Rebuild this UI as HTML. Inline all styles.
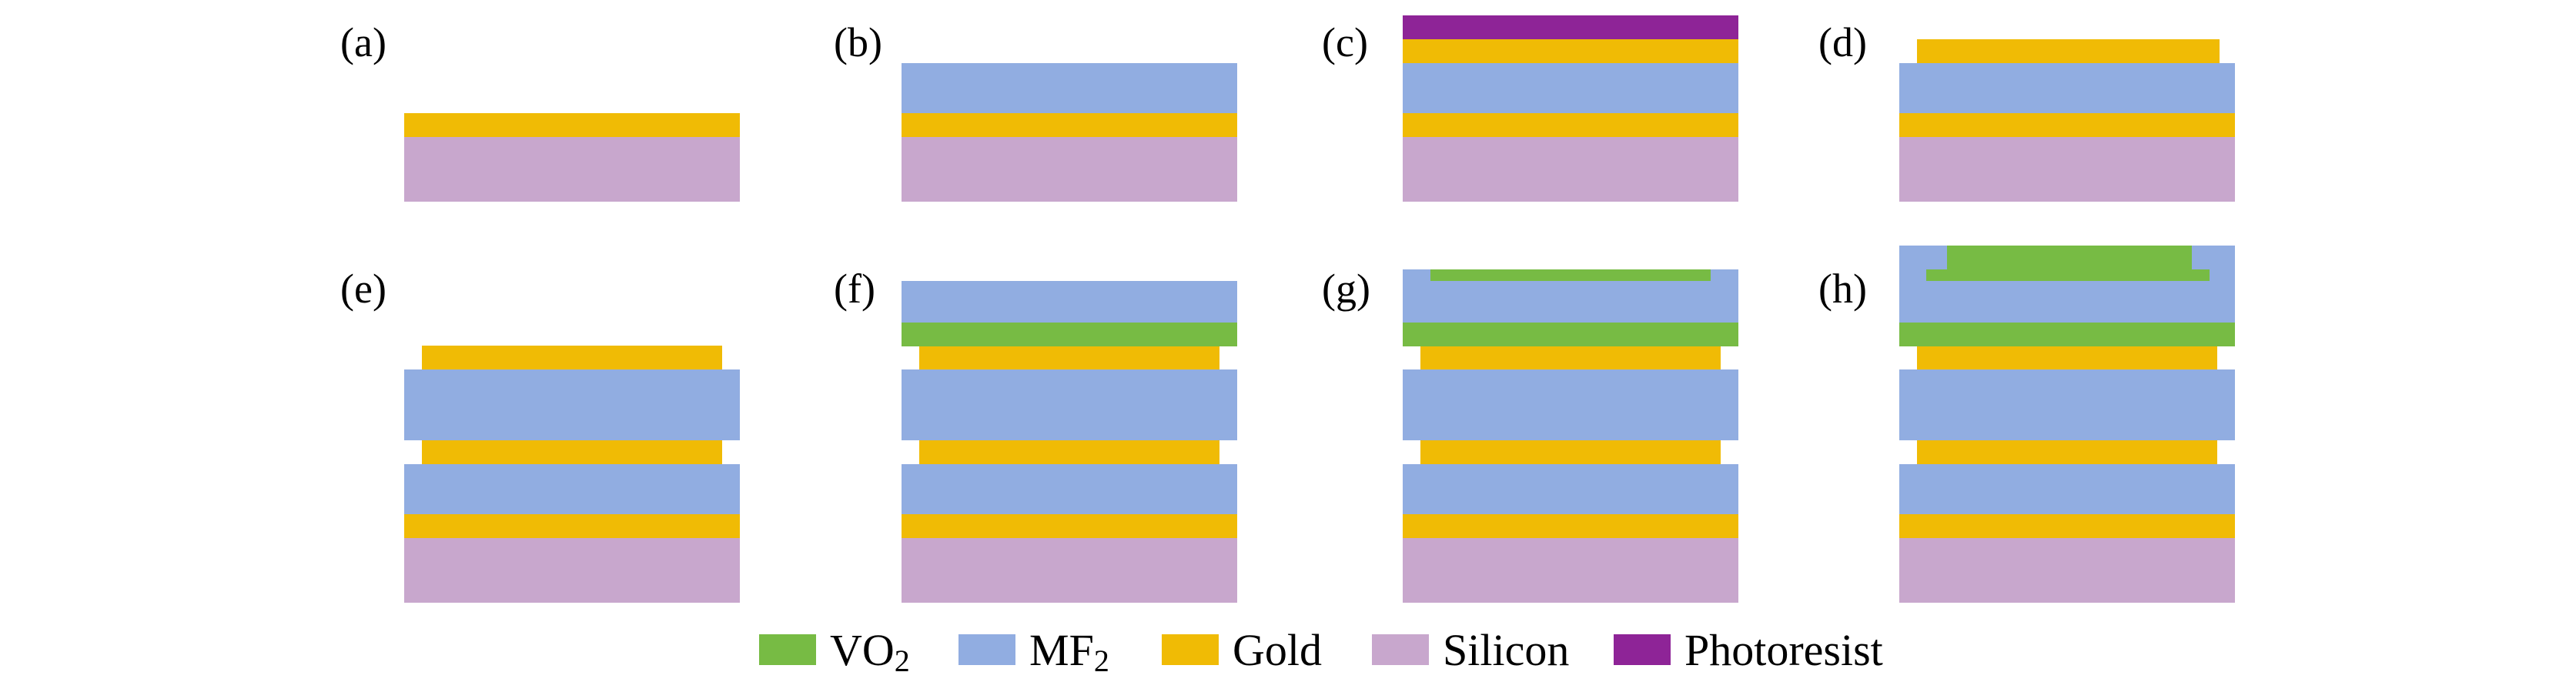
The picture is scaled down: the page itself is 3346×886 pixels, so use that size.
<!DOCTYPE html>
<html><head><meta charset="utf-8"><style>
html,body{margin:0;padding:0;background:#fff;}
svg{display:block;}
</style></head><body>
<svg width="3346" height="886" viewBox="0 0 3346 886" xmlns="http://www.w3.org/2000/svg">
<g id="panels"></g>
<g id="labels" font-size="54" font-family="'Liberation Serif', 'DejaVu Serif', serif" style="font-family:'Liberation Serif','DejaVu Serif',serif" fill="#000"></g>
<g id="legend" font-size="58" font-family="'Liberation Serif', 'DejaVu Serif', serif" style="font-family:'Liberation Serif','DejaVu Serif',serif" fill="#000"></g>
</svg>
<script>
const C={vo2:"#77bb44",mf2:"#91ade1",gold:"#f0bb05",si:"#c8a7cd",pr:"#8e2497"};
const panelX=[525,1171,1822,2467];
const W=436;
// layers: [material, insetLeft, insetRight, yTop, yBottom]
const base=[["si",0,0,178,262],["gold",0,0,147,178]];
const bottomBase=[["si",0,0,699,783],["gold",0,0,668,699],["mf2",0,0,603,668],["gold",23,23,572,603],["mf2",0,0,480,572],["gold",23,23,449,480]];
const panels=[
 {name:"a",col:0,layers:base},
 {name:"b",col:1,layers:base.concat([["mf2",0,0,82,147]])},
 {name:"c",col:2,layers:base.concat([["mf2",0,0,82,147],["gold",0,0,51,82],["pr",0,0,20,51]])},
 {name:"d",col:3,layers:base.concat([["mf2",0,0,82,147],["gold",23,20,51,82]])},
 {name:"e",col:0,layers:bottomBase},
 {name:"f",col:1,layers:bottomBase.concat([["vo2",0,0,419,450],["mf2",0,0,365,419]])},
 {name:"g",col:2,layers:bottomBase.concat([["vo2",0,0,419,450],["mf2",0,0,350,419],["vo2",36,36,350,365]])},
 {name:"h",col:3,layers:bottomBase.concat([["vo2",0,0,419,450],["mf2",0,0,319,419],["vo2",35,33,350,365],["vo2",62,56,319,350]])}
];
const NS="http://www.w3.org/2000/svg";
const gp=document.getElementById("panels");
panels.forEach(p=>{
  const g=document.createElementNS(NS,"g");
  
  
  p.layers.forEach(l=>{
    const r=document.createElementNS(NS,"rect");
    const x=panelX[p.col]+l[1];
    r.setAttribute("x",x);r.setAttribute("y",l[3]);
    r.setAttribute("width",W-l[1]-l[2]);r.setAttribute("height",l[4]-l[3]);
    r.setAttribute("fill",C[l[0]]);
    
    
    g.appendChild(r);
  });
  gp.appendChild(g);
});
const labelX=[442,1083,1717,2362];
const gl=document.getElementById("labels");
panels.forEach((p,i)=>{
  const t=document.createElementNS(NS,"text");
  t.setAttribute("x",labelX[p.col]);
  t.setAttribute("y",i<4?73:393);
  t.textContent="("+p.name+")";
  
  
  gl.appendChild(t);
});
const legNames=[["VO","2"],["MF","2"],["Gold",""],["Silicon",""],["Photoresist",""]];
const legKeys=["vo2","mf2","gold","si","pr"];
const legBoxX=[986,1245,1509,1782,2096];
const glg=document.getElementById("legend");
legKeys.forEach((k,i)=>{
  const r=document.createElementNS(NS,"rect");
  r.setAttribute("x",legBoxX[i]);r.setAttribute("y",824);
  r.setAttribute("width",74);r.setAttribute("height",40);
  r.setAttribute("fill",C[k]);
  
  
  glg.appendChild(r);
  const t=document.createElementNS(NS,"text");
  t.setAttribute("x",legBoxX[i]+92);t.setAttribute("y",864);
  t.textContent=legNames[i][0];
  if(legNames[i][1]){
    const s=document.createElementNS(NS,"tspan");
    s.setAttribute("font-size","40");s.setAttribute("dy","8");
    s.textContent=legNames[i][1];
    t.appendChild(s);
  }
  
  
  glg.appendChild(t);
});
</script>
</body></html>
